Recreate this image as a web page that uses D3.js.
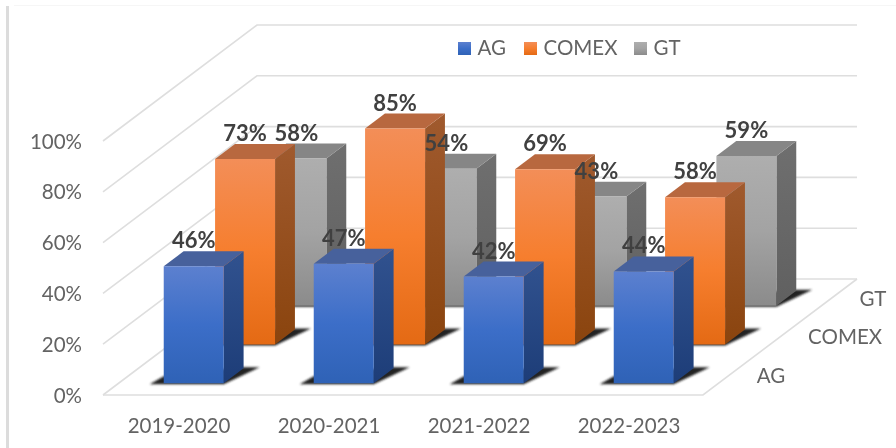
<!DOCTYPE html>
<html>
<head>
<meta charset="utf-8">
<script src="https://cdn.jsdelivr.net/npm/d3@7"></script>
<style>
  html, body { margin: 0; padding: 0; background: #fff; }
  svg { display: block; }
  text { font-family: Lato, "Open Sans", sans-serif; }
</style>
</head>
<body>
<svg width="896" height="448"></svg>
<script>
const years = ["2019-2020", "2020-2021", "2021-2022", "2022-2023"];
const seriesNames = ["AG", "COMEX", "GT"];
const agValues = [0.46, 0.47, 0.42, 0.44];
const comexValues = [0.73, 0.85, 0.69, 0.58];
const gtValues = [0.58, 0.54, 0.43, 0.59];
const yTicks = [0, 0.2, 0.4, 0.6, 0.8, 1];

const valuesBySeries = { AG: agValues, COMEX: comexValues, GT: gtValues };

let svg = d3.select("svg");

// page edge left over from the screenshot
svg.append("rect").attr("x", 6).attr("y", 6).attr("width", 3).attr("height", 442).style("fill", "#dcdcdc");
svg.append("rect").attr("x", 14).attr("y", 5).attr("width", 882).attr("height", 1).style("fill", "#f6f6f6");

let xScale = d3.scaleBand().domain(years).range([103, 703]).paddingInner(0.6).paddingOuter(0.3);
let xLabelScale = d3.scaleBand().domain(years).range([103, 703]);
let yScale = d3.scaleLinear().domain([0, 1]).range([395, 141]);
let depthScale = d3.scaleBand().domain(seriesNames).range([0, 1]).paddingInner(0.613).paddingOuter(0.3065);

// fake 3D: depth runs from 0 (front) to 1 (back wall)
const depthX = 154;
const depthY = 116;
let px = (x, d) => x + d * depthX;
let py = (v, d) => yScale(v) - d * depthY;
let poly = pts => pts.map(p => p.join(",")).join(" ");

let colors = {
  AG: { front: ["#5c80cf", "#3c6ec8", "#2f62b6"], side: ["#31528f", "#1d3d78"], top: "#47619c" },
  COMEX: { front: ["#f38e58", "#f67e2e", "#e46a14"], side: ["#a05a2e", "#8a440e"], top: "#b8683f" },
  GT: { front: ["#aeaeae", "#a3a3a3", "#8b8b8b"], side: ["#6f6f6f", "#606060"], top: "#868686" }
};

let defs = svg.append("defs");
seriesNames.forEach(s => {
  let front = defs.append("linearGradient").attr("id", "front" + s)
    .attr("x1", 0).attr("y1", 0).attr("x2", 0).attr("y2", 1);
  colors[s].front.forEach((c, i) => {
    front.append("stop").attr("offset", i / 2).attr("stop-color", c);
  });
  let side = defs.append("linearGradient").attr("id", "side" + s)
    .attr("x1", 0).attr("y1", 0).attr("x2", 0).attr("y2", 1);
  colors[s].side.forEach((c, i) => {
    side.append("stop").attr("offset", i).attr("stop-color", c);
  });
});
defs.append("filter").attr("id", "shadowBlur")
  .attr("x", "-30%").attr("y", "-60%").attr("width", "160%").attr("height", "220%")
  .append("feGaussianBlur").attr("stdDeviation", 1.2);
defs.append("filter").attr("id", "soft")
  .append("feGaussianBlur").attr("stdDeviation", 0.35);

// walls and floor
let grid = svg.append("g").style("fill", "none").style("stroke", "#dedede").style("stroke-width", 1.6);
grid.selectAll("polyline.tick")
  .data(yTicks)
  .join("polyline")
  .attr("class", "tick")
  .attr("points", d => poly([[px(103, 0), py(d, 0)], [px(103, 1), py(d, 1)], [px(703, 1), py(d, 1)]]));
grid.append("polyline")
  .attr("points", poly([[px(103, 0), py(0, 0)], [px(703, 0), py(0, 0)], [px(703, 1), py(0, 1)]]));

// back series first so the front ones cover them
let barsLayer = svg.append("g");
seriesNames.slice().reverse().forEach(s => {
  let d0 = depthScale(s);
  let d1 = d0 + depthScale.bandwidth();
  let bars = barsLayer.append("g")
    .selectAll("g")
    .data(years.map((y, i) => ({ year: y, value: valuesBySeries[s][i] })))
    .join("g");

  let x0 = d => xScale(d.year);
  let x1 = d => xScale(d.year) + xScale.bandwidth();

  bars.append("polygon")
    .attr("points", d => poly([
      [px(x0(d) - 14, d0), py(0, d0) + 1],
      [px(x1(d), d0), py(0, d0) + 1],
      [px(x1(d) + 16, d1), py(0, d1) - 1],
      [px(x1(d) - 5, d1), py(0, d1) - 1],
      [px(x0(d), d0), py(0, d0) - 7]
    ]))
    .style("fill", "#222")
    .attr("filter", "url(#shadowBlur)");

  bars.append("polygon")
    .attr("points", d => poly([
      [px(x1(d), d0), py(d.value, d0)],
      [px(x1(d), d1), py(d.value, d1)],
      [px(x1(d), d1), py(0, d1)],
      [px(x1(d), d0), py(0, d0)]
    ]))
    .style("fill", `url(#side${s})`);

  bars.append("polygon")
    .attr("points", d => poly([
      [px(x0(d), d0), py(d.value, d0)],
      [px(x0(d), d1), py(d.value, d1)],
      [px(x1(d), d1), py(d.value, d1)],
      [px(x1(d), d0), py(d.value, d0)]
    ]))
    .style("fill", colors[s].top);

  bars.append("polygon")
    .attr("points", d => poly([
      [px(x0(d), d0), py(d.value, d0)],
      [px(x1(d), d0), py(d.value, d0)],
      [px(x1(d), d0), py(0, d0)],
      [px(x0(d), d0), py(0, d0)]
    ]))
    .style("fill", `url(#front${s})`);
});

let textLayer = svg.append("g").attr("filter", "url(#soft)");

// value labels go on top of every bar
seriesNames.forEach(s => {
  let d0 = depthScale(s);
  let d1 = d0 + depthScale.bandwidth();
  textLayer.append("g")
    .selectAll("text")
    .data(valuesBySeries[s].map((v, i) => ({ year: years[i], value: v })))
    .join("text")
    .attr("x", d => px(xScale(d.year) + xScale.bandwidth() / 2, d0))
    .attr("y", d => py(d.value, d1) - 3)
    .attr("text-anchor", "middle")
    .style("font-size", "22px")
    .style("font-weight", 700)
    .style("fill", "#404040")
    .text(d => d3.format(".0%")(d.value));
});

let axisText = "#646464";

textLayer.append("g")
  .selectAll("text")
  .data(yTicks)
  .join("text")
  .attr("x", 82)
  .attr("y", d => yScale(d) + 7.5)
  .attr("text-anchor", "end")
  .style("font-size", "20.5px")
  .style("fill", axisText)
  .text(d => d3.format(".0%")(d));

textLayer.append("g")
  .selectAll("text")
  .data(years)
  .join("text")
  .attr("x", d => xLabelScale(d) + xLabelScale.bandwidth() / 2 + 1)
  .attr("y", 433)
  .attr("text-anchor", "middle")
  .style("font-size", "20.5px")
  .style("fill", axisText)
  .text(d => d);

// series names along the right floor edge
textLayer.append("g")
  .selectAll("text")
  .data(seriesNames)
  .join("text")
  .attr("x", d => px(703, depthScale(d)) + 38)
  .attr("y", d => py(0, depthScale(d)) + 0)
  .style("font-size", "20.5px")
  .style("fill", axisText)
  .text(d => d);

// legend
const legendX = [458, 524, 634];
seriesNames.forEach((s, i) => {
  svg.append("rect")
    .attr("x", legendX[i]).attr("y", 42)
    .attr("width", 13).attr("height", 13)
    .style("fill", `url(#front${s})`);
  textLayer.append("text")
    .attr("x", legendX[i] + 19.5).attr("y", 55)
    .style("font-size", "20.5px")
    .style("fill", axisText)
    .text(s);
});
</script>
</body>
</html>
